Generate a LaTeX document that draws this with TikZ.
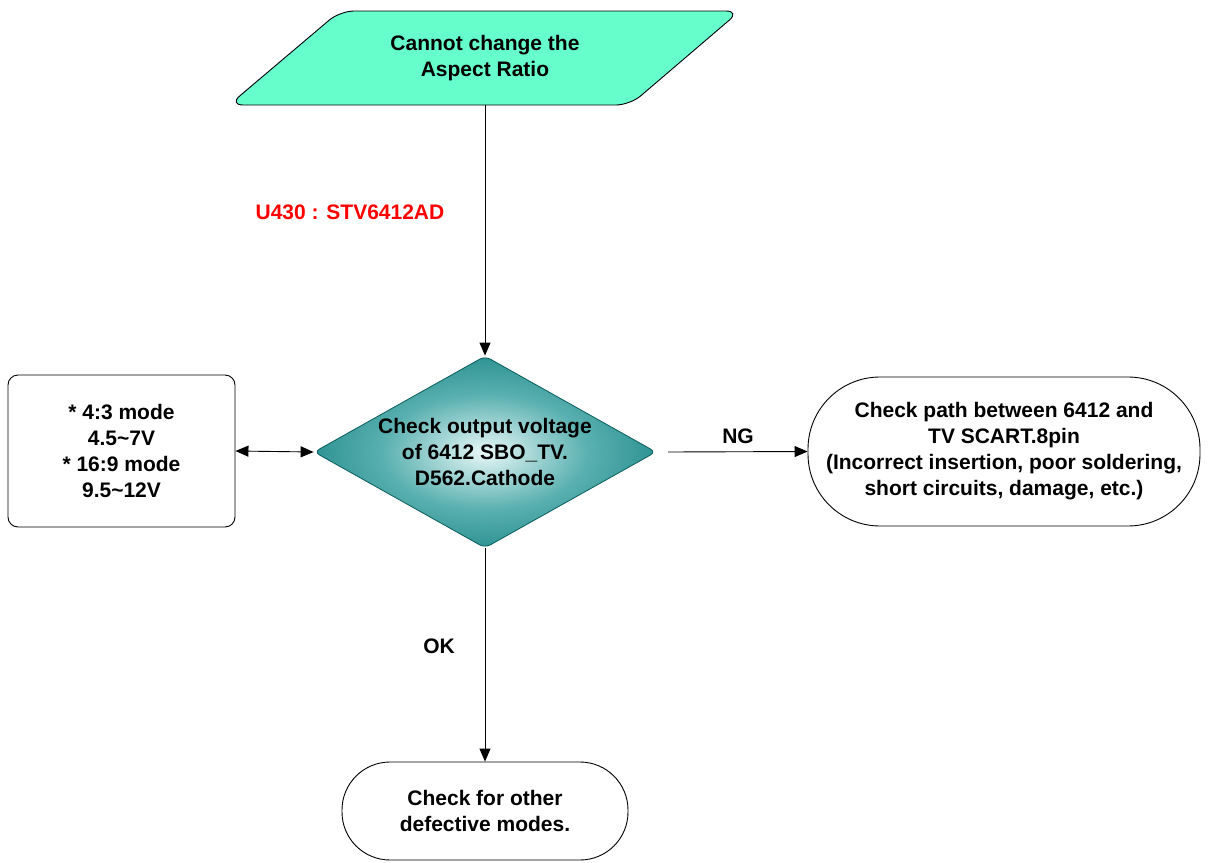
\documentclass[tikz,border=0pt]{standalone}
\usepackage{fontspec}
\setmainfont{Liberation Sans}
\usetikzlibrary{arrows.meta,shapes.geometric}
\definecolor{startfill}{HTML}{66FFCC}
\definecolor{diamedge}{HTML}{0C7C7C}
\definecolor{diammid}{HTML}{5AB0B0}
\definecolor{diamin}{HTML}{E8F7F7}
\definecolor{labred}{HTML}{FF0000}
% soft teal glow for the decision diamond
\pgfdeclareradialshading{diamshade}{\pgfpoint{0bp}{0bp}}{%
  color(0bp)=(diamin); color(15bp)=(diammid); color(33bp)=(diamedge); color(50bp)=(diamedge)}
\begin{document}
\begin{tikzpicture}[x=1pt,y=-1pt,
  every node/.style={font=\fontsize{21}{26}\selectfont\bfseries, align=center},
  box/.style={draw, line width=0.9pt, rounded corners=10pt, minimum width=227pt, minimum height=152pt},
  term/.style={draw, line width=0.9pt, inner sep=0pt},
  arr/.style={line width=0.9pt, -{Triangle[length=13pt,width=11pt]}},
  dbl/.style={line width=0.9pt, {Triangle[length=13pt,width=11pt]}-{Triangle[length=13pt,width=11pt]}},
  lab/.style={inner sep=1pt}
]
\useasboundingbox (0,0) rectangle (1210,862);

% start parallelogram
\draw[fill=startfill, line width=0.9pt, rounded corners=14pt]
  (229,105) -- (340,11) -- (740,11) -- (630,105) -- cycle;
\node[minimum height=94pt, inner sep=0pt] (start) at (485,58) {Cannot change the\\Aspect Ratio};

% decision
\node[diamond, draw=diamedge!75!black, line width=0.8pt, shading=diamshade,
      minimum width=342pt, minimum height=192pt, inner sep=0pt, aspect=1.79,
      rounded corners=6pt] (chk) at (485,452)
  {Check output voltage\\of 6412 SBO\_TV.\\D562.Cathode};

% reference voltages
\node[box] (volt) at (121.5,451) {* 4:3 mode\\4.5\textasciitilde7V\\* 16:9 mode\\9.5\textasciitilde12V};

% NG result
\node[term, rounded corners=72pt, minimum width=392pt, minimum height=149pt] (pathchk) at (1004,451.5)
  {Check path between 6412 and\\TV SCART.8pin\\(Incorrect insertion, poor soldering,\\short circuits, damage, etc.)};

% OK result
\node[term, rounded corners=48pt, minimum width=286pt, minimum height=98pt] (other) at (485,811)
  {Check for other\\defective modes.};

\coordinate (ngstart) at (668,452);

% connectors
\draw[arr] (start.south) -- (chk.north);
\draw[dbl] (volt.east) -- (chk.west);
\draw[arr] (ngstart) -- (pathchk.west);
\draw[arr] (chk.south) -- (other.north);

% labels
\node[lab, text=labred] (ulab) at (350,212) {U430 : STV6412AD};
\node[lab] (nglab) at (738,436) {NG};
\node[lab] (oklab) at (439,646) {OK};
\end{tikzpicture}
\end{document}
